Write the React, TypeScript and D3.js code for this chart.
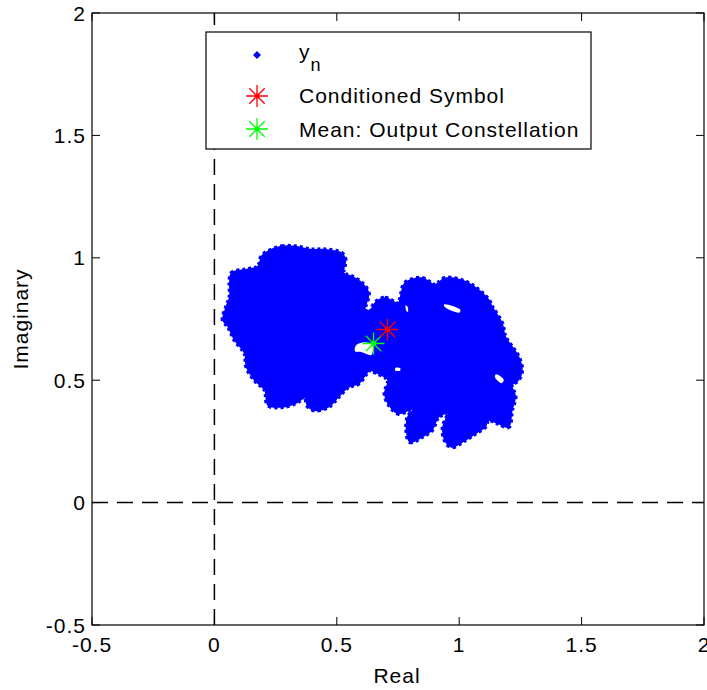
import React from "react";
import * as d3 from "d3";

// Axis setup
const xDomain: [number, number] = [-0.5, 2];
const yDomain: [number, number] = [-0.5, 2];
const xTicks = [-0.5, 0, 0.5, 1, 1.5, 2];
const yTicks = [-0.5, 0, 0.5, 1, 1.5, 2];
const xTickLabels = ["-0.5", "0", "0.5", "1", "1.5", "2"];
const yTickLabels = ["-0.5", "0", "0.5", "1", "1.5", "2"];

// Received samples y_n: outline of the left cluster (real, imaginary)
const leftCloud: [number, number][] = [
  [0.207, 1.018], [0.275, 1.045], [0.329, 1.045], [0.397, 1.032], [0.452, 1.032],
  [0.52, 1.018], [0.534, 0.991], [0.527, 0.937], [0.561, 0.923], [0.602, 0.896],
  [0.629, 0.855], [0.615, 0.787], [0.656, 0.78], [0.697, 0.746], [0.717, 0.583],
  [0.676, 0.534], [0.636, 0.542], [0.588, 0.487], [0.547, 0.473], [0.506, 0.433],
  [0.465, 0.392], [0.411, 0.378], [0.382, 0.395], [0.37, 0.433], [0.35, 0.419],
  [0.329, 0.406], [0.275, 0.392], [0.22, 0.399], [0.207, 0.46], [0.166, 0.5],
  [0.132, 0.555], [0.125, 0.61], [0.084, 0.664], [0.057, 0.719], [0.036, 0.746],
  [0.05, 0.8], [0.064, 0.841], [0.064, 0.896], [0.071, 0.937], [0.125, 0.95],
  [0.179, 0.964], [0.193, 1.004],
];

// Received samples y_n: outline of the right cluster
const rightCloud: [number, number][] = [
  [0.656, 0.814], [0.697, 0.835], [0.751, 0.814], [0.765, 0.855], [0.779, 0.896],
  [0.847, 0.916], [0.901, 0.889], [0.942, 0.916], [1.024, 0.902], [1.078, 0.868],
  [1.119, 0.828], [1.133, 0.8], [1.174, 0.732], [1.187, 0.678], [1.214, 0.637],
  [1.241, 0.596], [1.255, 0.542], [1.241, 0.501], [1.214, 0.48], [1.228, 0.433],
  [1.214, 0.378], [1.201, 0.31], [1.16, 0.324], [1.119, 0.337], [1.105, 0.31],
  [1.065, 0.283], [1.024, 0.256], [0.969, 0.228], [0.942, 0.256], [0.935, 0.31],
  [0.955, 0.365], [0.915, 0.351], [0.888, 0.297], [0.847, 0.269], [0.799, 0.249],
  [0.786, 0.297], [0.792, 0.351], [0.826, 0.392], [0.792, 0.378], [0.751, 0.365],
  [0.71, 0.406], [0.697, 0.446], [0.71, 0.501], [0.67, 0.528], [0.643, 0.542],
  [0.603, 0.644], [0.629, 0.746],
];

// Empty pockets inside the clusters
const cloudGaps: [number, number][][] = [
  [[0.578, 0.642], [0.615, 0.655], [0.645, 0.645], [0.641, 0.603], [0.603, 0.614], [0.575, 0.618]],
  [[0.938, 0.81], [1.005, 0.788], [1.0, 0.776], [0.94, 0.8]],
  [[1.15, 0.524], [1.182, 0.502], [1.173, 0.488], [1.146, 0.512]],
  [[0.74, 0.551], [0.76, 0.548], [0.757, 0.538], [0.738, 0.541]],
  [[0.781, 0.806], [0.789, 0.8], [0.791, 0.78], [0.785, 0.782]],
];

const conditionedSymbol: [number, number] = [0.7071, 0.7071];
const meanOutput: [number, number] = [0.65, 0.65];

const W = 707;
const H = 690;
const FONT = "'Liberation Sans', Arial, Helvetica, sans-serif";

function asteriskPath(cx: number, cy: number, r: number): string {
  const d = r * 0.7;
  return [
    `M${cx - r},${cy}L${cx + r},${cy}`,
    `M${cx},${cy - r}L${cx},${cy + r}`,
    `M${cx - d},${cy - d}L${cx + d},${cy + d}`,
    `M${cx - d},${cy + d}L${cx + d},${cy - d}`,
  ].join("");
}

export default function App() {
  const x = d3.scaleLinear().domain(xDomain).range([92, 704]);
  const y = d3.scaleLinear().domain(yDomain).range([625, 13]);
  const [x0, x1] = x.range();
  const [y0, y1] = y.range();

  const blob = d3
    .line<[number, number]>()
    .x((d) => x(d[0]))
    .y((d) => y(d[1]))
    .curve(d3.curveCatmullRomClosed.alpha(0.5));

  const tickLen = 8;
  const textStyle = { fontFamily: FONT, fontSize: 21, letterSpacing: 1, fill: "#000" };

  const lx = 257;
  return (
    <svg
      width={W}
      height={H}
      style={{ position: "absolute", left: 0, top: 0, background: "#fff" }}
    >
      <rect x={0} y={0} width={W} height={H} fill="#fff" />

      {/* reference axes through the origin */}
      <line x1={x(0)} x2={x(0)} y1={y0} y2={y1} stroke="#000" strokeWidth={1.5} strokeDasharray="16,9" />
      <line x1={x0} x2={x1} y1={y(0)} y2={y(0)} stroke="#000" strokeWidth={1.5} strokeDasharray="16,9" />

      {/* y_n scatter clusters */}
      {[leftCloud, rightCloud].map((c, i) => (
        <g key={i}>
          <path d={blob(c) ?? ""} fill="#0000ff" stroke="#0000ff" strokeWidth={2} strokeLinejoin="round" />
          <path d={blob(c) ?? ""} fill="none" stroke="#0000ff" strokeWidth={5} strokeDasharray="3,3" />
        </g>
      ))}
      {cloudGaps.map((g, i) => (
        <path key={i} d={blob(g) ?? ""} fill="#fff" />
      ))}

      {/* mean of the output constellation */}
      <path d={asteriskPath(x(meanOutput[0]), y(meanOutput[1]), 11)} stroke="#00ff00" strokeWidth={1.3} fill="none" />
      <circle cx={x(meanOutput[0])} cy={y(meanOutput[1])} r={2.5} fill="#00ff00" />

      {/* conditioned symbol */}
      <path d={asteriskPath(x(conditionedSymbol[0]), y(conditionedSymbol[1]), 11)} stroke="#ff0000" strokeWidth={1.3} fill="none" />
      <circle cx={x(conditionedSymbol[0])} cy={y(conditionedSymbol[1])} r={2.5} fill="#ff0000" />

      {/* ticks on all four sides */}
      {xTicks.map((t, i) => (
        <g key={`xt${i}`}>
          <line x1={x(t)} x2={x(t)} y1={y0} y2={y0 - tickLen} stroke="#000" />
          <line x1={x(t)} x2={x(t)} y1={y1} y2={y1 + tickLen} stroke="#000" />
          <text x={x(t)} y={652} textAnchor="middle" {...textStyle}>
            {xTickLabels[i]}
          </text>
        </g>
      ))}
      {yTicks.map((t, i) => (
        <g key={`yt${i}`}>
          <line x1={x0} x2={x0 + tickLen} y1={y(t)} y2={y(t)} stroke="#000" />
          <line x1={x1} x2={x1 - tickLen} y1={y(t)} y2={y(t)} stroke="#000" />
          <text x={86} y={y(t)} dy="0.36em" textAnchor="end" {...textStyle}>
            {yTickLabels[i]}
          </text>
        </g>
      ))}

      {/* axes box */}
      <rect x={x0} y={y1} width={x1 - x0} height={y0 - y1} fill="none" stroke="#000" strokeWidth={1.2} />

      {/* axis titles */}
      <text x={397} y={683} textAnchor="middle" {...textStyle}>Real</text>
      <text transform="translate(28,319) rotate(-90)" textAnchor="middle" {...textStyle}>Imaginary</text>

      {/* legend */}
      <g>
        <rect x={206} y={32} width={385} height={117} fill="#fff" stroke="#000" strokeWidth={1.2} />
        <path d={`M${lx},${55 - 4}L${lx + 4},55L${lx},${55 + 4}L${lx - 4},55Z`} fill="#0000ff" />
        <text x={299} y={59} {...textStyle}>
          y<tspan dy={12} fontSize={18}>n</tspan>
        </text>
        <path d={asteriskPath(lx, 96, 11)} stroke="#ff0000" strokeWidth={1.3} fill="none" />
        <circle cx={lx} cy={96} r={2.5} fill="#ff0000" />
        <text x={299} y={103} {...textStyle}>Conditioned Symbol</text>
        <path d={asteriskPath(lx, 129, 11)} stroke="#00ff00" strokeWidth={1.3} fill="none" />
        <circle cx={lx} cy={129} r={2.5} fill="#00ff00" />
        <text x={299} y={137} {...textStyle}>Mean: Output Constellation</text>
      </g>
    </svg>
  );
}
